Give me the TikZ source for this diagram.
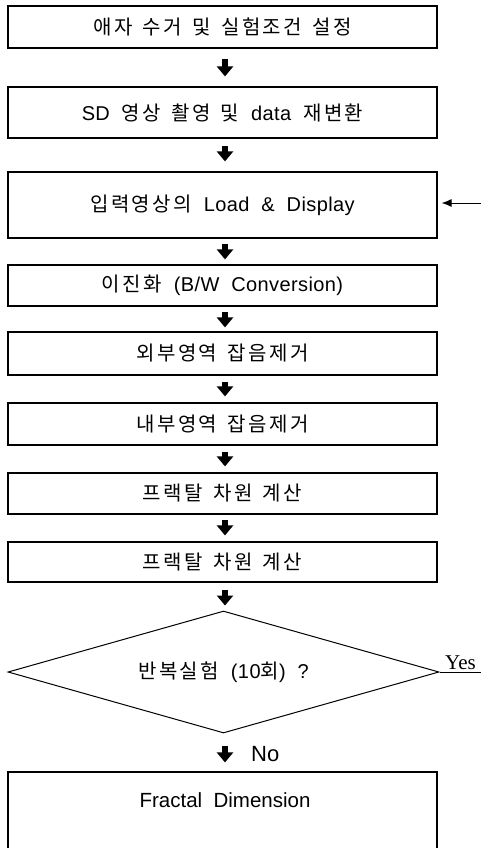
\documentclass[tikz,border=0pt]{standalone}
\usepackage{fontspec}
\setmainfont{Liberation Sans}
\newfontfamily\kr[LetterSpace=12,WordSpace=1.5]{Noto Sans CJK KR}
\newfontfamily\lt[LetterSpace=2,WordSpace=2]{Liberation Sans}
\newfontfamily\yesfont{Liberation Serif}
\usetikzlibrary{arrows.meta,shapes.geometric}
\newcommand\K[1]{{\kr\fontsize{20}{23}\selectfont #1}}
\begin{document}
\begin{tikzpicture}[x=1pt,y=-1pt,
  box/.style={draw, line width=1.2pt, minimum width=429pt, inner sep=0pt,
    font=\lt\fontsize{20}{23}\selectfont},
  blk/.style={line width=6pt, -{Triangle[width=16pt,length=10pt]}},
  back/.style={line width=1pt, -{Latex[width=8pt,length=10pt]}},
]
\useasboundingbox (0,0) rectangle (481,848);
\coordinate (ax) at (225,0);
\node[box, minimum height=42pt] (b1) at (222.5,27) {\K{애자 수거 및 실험조건 설정}};
\node[box, minimum height=51pt] (b2) at (222.5,112.5) {SD \K{영상 촬영 및} data \K{재변환}};
\node[box, minimum height=66pt] (b3) at (222.5,205) {\K{입력영상의} Load \& Display};
\node[box, minimum height=41pt] (b4) at (222.5,285.5) {\K{이진화} (B/W Conversion)};
\node[box, minimum height=43pt] (b5) at (222.5,353.5) {\K{외부영역 잡음제거}};
\node[box, minimum height=42pt] (b6) at (222.5,424) {\K{내부영역 잡음제거}};
\node[box, minimum height=41pt] (b7) at (222.5,493.5) {\K{프랙탈 차원 계산}};
\node[box, minimum height=40pt] (b8) at (222.5,562) {\K{프랙탈 차원 계산}};
\node[draw, diamond, aspect=3.5, minimum width=431pt, minimum height=122pt, inner sep=0pt,
  line width=1pt, font=\lt\fontsize{20}{23}\selectfont] (dia) at (223.5,672) {\K{반복실험} (10\K{회}) ?};
\node[draw, line width=1.2pt, minimum width=429pt, minimum height=80pt, inner sep=0pt] (b9) at (222.5,812) {};
\node[font=\fontsize{20.5}{24}\selectfont, inner sep=0pt] (b9t) at (225,800) {Fractal\ \ Dimension};
\coordinate (ret) at (481,203);
\node[anchor=south west, inner sep=0pt, font=\yesfont\fontsize{21}{24}\selectfont] (yes) at (445,670) {Yes};
\node[anchor=west, inner sep=0pt, font=\fontsize{22}{26}\selectfont] (no) at (251,754) {No};
\coordinate (yesend) at (481,672);
\draw[blk, shorten <=10pt, shorten >=10pt] (b1.south -| ax) -- (b2.north -| ax);
\draw[blk, shorten <=7pt, shorten >=10pt] (b2.south -| ax) -- (b3.north -| ax);
\draw[blk, shorten <=5pt, shorten >=5pt] (b3.south -| ax) -- (b4.north -| ax);
\draw[blk, shorten <=5pt, shorten >=4pt] (b4.south -| ax) -- (b5.north -| ax);
\draw[blk, shorten <=6pt, shorten >=6pt] (b5.south -| ax) -- (b6.north -| ax);
\draw[blk, shorten <=6pt, shorten >=6pt] (b6.south -| ax) -- (b7.north -| ax);
\draw[blk, shorten <=5pt, shorten >=6pt] (b7.south -| ax) -- (b8.north -| ax);
\draw[blk, shorten <=7pt, shorten >=5pt] (b8.south -| ax) -- (dia.north -| ax);
\draw[blk, shorten <=12pt, shorten >=9pt] (dia.south -| ax) -- (b9.north -| ax);
\draw[line width=1pt] (dia.east) -- (yesend);
\draw[back, shorten >=4pt] (ret) -- (b3.east |- ret);
\end{tikzpicture}
\end{document}
